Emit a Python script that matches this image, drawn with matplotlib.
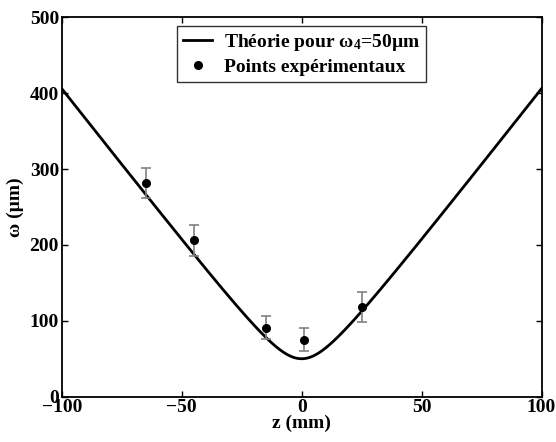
import numpy as np
import matplotlib
matplotlib.use("Agg")
import matplotlib.pyplot as plt

plt.rcParams['font.family'] = ['Liberation Serif', 'DejaVu Serif']
plt.rcParams['font.weight'] = 'bold'
plt.rcParams['mathtext.fontset'] = 'custom'
plt.rcParams['mathtext.rm'] = 'Liberation Serif:bold'
plt.rcParams['mathtext.bf'] = 'Liberation Serif:bold'
plt.rcParams['mathtext.default'] = 'bf'

# Theory parameters
w0_um = 50.0          # waist (µm)
wavelength_nm = 632.8 # HeNe

# Experimental points
z_exp = [-65, -45, -15, 1, 25]
w_exp = [282, 206, 91, 75, 118]
w_err = [20, 20, 15, 15, 20]

xticks = [-100, -50, 0, 50, 100]
yticks = [0, 100, 200, 300, 400, 500]

z = np.linspace(-100, 100, 801)
zR_mm = np.pi * (w0_um * 1e-3) ** 2 / (wavelength_nm * 1e-6)
w = w0_um * np.sqrt(1 + (z / zR_mm) ** 2)

fig = plt.figure(figsize=(5.56, 4.42), dpi=100)
ax = fig.add_axes([0.111, 0.1025, 0.863, 0.8585])

ax.plot(z, w, color='black', lw=2.0, label='Théorie pour ω$_4$=50µm')
ax.errorbar(z_exp, w_exp, yerr=w_err, fmt='none', ecolor='#808080',
            elinewidth=1.2, capsize=3.8, capthick=1.2)
ax.plot(z_exp, w_exp, 'o', color='black', ms=5.5, label='Points expérimentaux')

ax.set_xlim(-100, 100)
ax.set_ylim(0, 500)
ax.set_xticks(xticks)
ax.set_yticks(yticks)
ax.tick_params(direction='in', length=4, width=1, top=True, right=True,
               labelsize=14, pad=2)
for lab in ax.get_xticklabels() + ax.get_yticklabels():
    lab.set_fontweight('bold')
for s in ax.spines.values():
    s.set_linewidth(1.3)

ax.set_xlabel('z (mm)', fontsize=14, fontweight='bold', labelpad=-1)
ax.set_ylabel('ω (µm)', fontsize=14, fontweight='bold', labelpad=4)

leg = ax.legend(loc='upper center', bbox_to_anchor=(0.5, 1.0), fontsize=14,
                frameon=True, fancybox=False, edgecolor='black',
                handlelength=1.5, borderpad=0.3, labelspacing=0.3,
                handletextpad=0.6, borderaxespad=0.45)
leg.get_frame().set_linewidth(1.0)
for t in leg.get_texts():
    t.set_fontweight('bold')

fig.savefig('out.png', dpi=100)
